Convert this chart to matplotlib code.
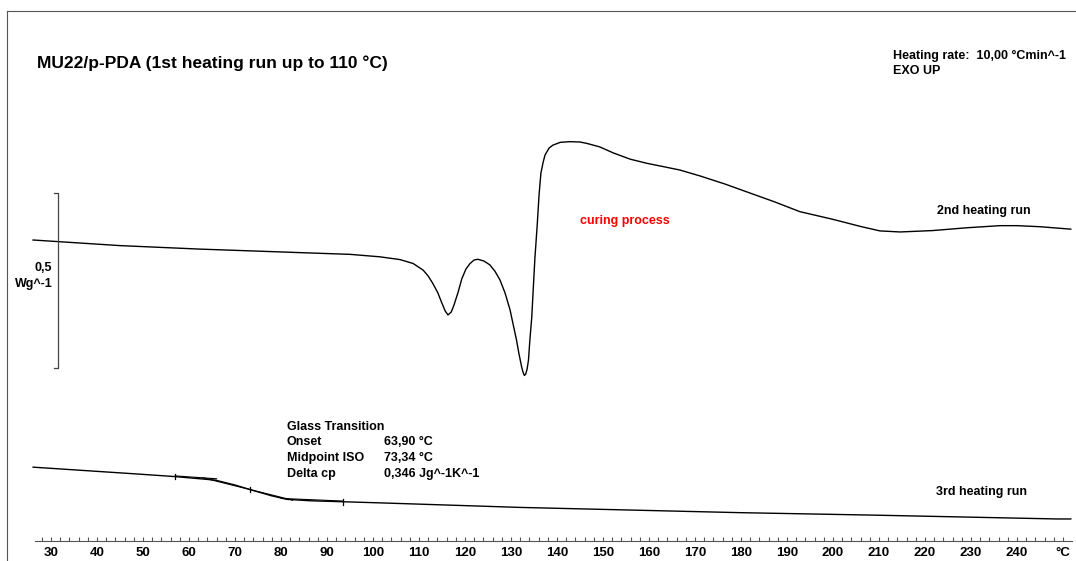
import numpy as np
import matplotlib
matplotlib.use("Agg")
import matplotlib.pyplot as plt
from matplotlib.ticker import FixedLocator, FuncFormatter

plt.rcParams['font.family'] = ['Liberation Sans', 'DejaVu Sans']
plt.rcParams['font.weight'] = 'bold'

# 2nd heating run: temperature (°C) and shifted heat flow (W/g)
t_run2 = [26.1, 45.0, 62.4, 84.1, 95.0, 101.5, 105.9, 108.7, 110.9, 112.0,
          113.0, 114.1, 115.0, 115.7, 116.3, 117.0, 117.6, 118.5, 119.3, 120.2,
          121.1, 122.0, 122.8, 124.1, 125.4, 126.5, 127.6, 128.7, 129.8, 130.4,
          131.2, 131.7, 132.3, 132.6, 132.9, 133.2, 133.5, 133.8, 134.1, 134.5,
          134.8, 135.2, 135.7, 136.1, 136.5, 137.0, 137.4, 138.3, 139.1, 140.7,
          142.8, 145.0, 146.5, 149.3, 152.2, 155.9, 159.6, 163.0, 166.7, 171.1,
          176.5, 182.0, 187.3, 192.8, 200.0, 205.9, 210.2, 214.6, 221.7, 229.1,
          236.3, 240.0, 245.0, 251.7]
hf_run2 = [0.860, 0.844, 0.834, 0.824, 0.819, 0.812, 0.804, 0.793, 0.774, 0.757,
           0.736, 0.709, 0.679, 0.657, 0.646, 0.654, 0.674, 0.711, 0.749, 0.777,
           0.793, 0.803, 0.805, 0.800, 0.789, 0.771, 0.746, 0.709, 0.660, 0.623,
           0.574, 0.537, 0.498, 0.483, 0.473, 0.477, 0.491, 0.517, 0.574, 0.637,
           0.711, 0.809, 0.903, 0.989, 1.051, 1.083, 1.103, 1.123, 1.131, 1.139,
           1.141, 1.140, 1.136, 1.126, 1.109, 1.091, 1.079, 1.070, 1.060, 1.043,
           1.020, 0.994, 0.969, 0.941, 0.919, 0.899, 0.886, 0.883, 0.887, 0.895,
           0.901, 0.901, 0.898, 0.891]

# 3rd heating run
t_run3 = [26.1, 49.3, 57.0, 65.7, 70.0, 74.3, 78.0, 81.3, 86.3, 93.9,
          101.5, 132.0, 179.8, 208.7, 248.7, 251.7]
hf_run3 = [0.211, 0.191, 0.184, 0.174, 0.160, 0.143, 0.129, 0.119, 0.115, 0.112,
           0.109, 0.096, 0.081, 0.074, 0.063, 0.063]

# glass transition evaluation (3rd run)
tg_limits = [57.0, 93.5]
tg_onset = 63.90
tg_mid = 73.34
tg_dcp = 0.346

scale_bar = 0.5  # W/g

fig = plt.figure(figsize=(10.76, 5.61), dpi=100)
ax = fig.add_axes([7 / 1076, 0, 1 - 7 / 1076, 1 - 11 / 561])
ax.set_xlim(20.43, 252.83)
ax.set_ylim(-0.0571, 1.5143)

ax.plot(t_run2, hf_run2, color='black', lw=1.0)
ax.plot(t_run3, hf_run3, color='black', lw=1.0)

# tangents of the Tg evaluation
slope_pre = (hf_run3[2] - hf_run3[1]) / (t_run3[2] - t_run3[1])
v_on = np.interp(tg_limits[0], t_run3, hf_run3) + slope_pre * (tg_onset - tg_limits[0])
v_mid = np.interp(tg_mid, t_run3, hf_run3)
slope_step = (v_mid - v_on) / (tg_mid - tg_onset)
tb = np.array([tg_limits[0], 66.0])
ax.plot(tb, v_on + slope_pre * (tb - tg_onset) + 0.002, color='black', lw=0.8)
ti = np.array([63.0, 82.5])
ax.plot(ti, v_on + slope_step * (ti - tg_onset), color='black', lw=0.8)
v_end = np.interp(tg_limits[1], t_run3, hf_run3)
tp = np.array([80.0, tg_limits[1]])
ax.plot(tp, v_end + (hf_run3[9] - hf_run3[7]) / (t_run3[9] - t_run3[7]) * (tp - tg_limits[1]) + 0.002,
        color='black', lw=0.8)
for tm in [tg_limits[0], tg_mid, tg_limits[1]]:
    vm = np.interp(tm, t_run3, hf_run3)
    ax.plot([tm, tm], [vm - 0.008, vm + 0.008], color='black', lw=0.9)

# scale bar
sb_x, sb_top = 31.5, 0.994
ax.plot([sb_x - 0.85, sb_x, sb_x, sb_x - 0.85],
        [sb_top, sb_top, sb_top - scale_bar, sb_top - scale_bar], color='#444444', lw=0.9)
ax.text(sb_x - 1.2, 0.757, '0,5\nWg^-1', ha='right', va='center',
        fontsize=9, linespacing=1.45)

# axes frame
ax.spines['right'].set_visible(False)
ax.spines['left'].set_color('#555555')
ax.spines['top'].set_color('#555555')
ax.spines['bottom'].set_position(('data', 0))
ax.spines['bottom'].set_bounds(26.5, 252.0)
ax.spines['bottom'].set_color('#555555')
ax.yaxis.set_visible(False)
ax.xaxis.set_major_locator(FixedLocator(np.arange(30, 251, 10)))
ax.xaxis.set_minor_locator(FixedLocator(np.arange(28, 252, 2)))
ax.xaxis.set_major_formatter(FuncFormatter(lambda v, p: '°C' if v > 245 else '%d' % v))
ax.tick_params(axis='x', which='both', direction='in', length=3, width=0.8,
               color='#555555', pad=4.5, labelsize=9.5)

# annotations
ax.text(26.96, 1.365, 'MU22/p-PDA (1st heating run up to 110 °C)', fontsize=12.5,
        ha='left', va='center')
ax.text(213.0, 1.364, 'Heating rate:  10,00 °Cmin^-1\nEXO UP', fontsize=9,
        ha='left', va='center', linespacing=1.35)
ax.text(145.0, 0.914, 'curing process', color='#ff0000', fontsize=9, ha='left', va='center')
ax.text(222.6, 0.943, '2nd heating run', fontsize=9, ha='left', va='center')
ax.text(222.4, 0.140, '3rd heating run', fontsize=9, ha='left', va='center')

labels = ['Glass Transition', 'Onset', 'Midpoint ISO', 'Delta cp']
values = ['', '%.2f °C' % tg_onset, '%.2f °C' % tg_mid, '%.3f Jg^-1K^-1' % tg_dcp]
for i, (lab, val) in enumerate(zip(labels, values)):
    yy = 0.327 - i * 0.0449
    ax.text(81.3, yy, lab, fontsize=9, ha='left', va='center')
    ax.text(102.4, yy, val.replace('.', ','), fontsize=9, ha='left', va='center')

fig.savefig('out.png', dpi=100)
